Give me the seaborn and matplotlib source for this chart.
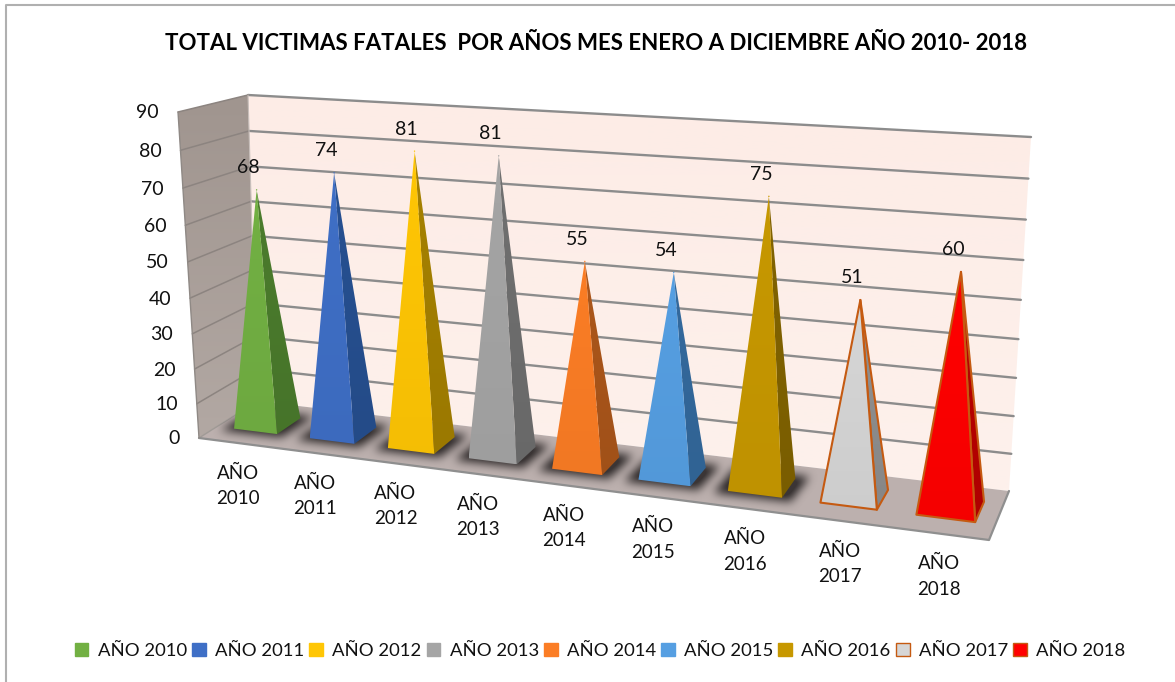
import numpy as np
import pandas as pd
import matplotlib
matplotlib.use("Agg")
import matplotlib.pyplot as plt
from matplotlib.patches import Patch, Polygon
from matplotlib.path import Path
import seaborn as sns

# ---- data ----
categories = ["AÑO 2010", "AÑO 2011", "AÑO 2012", "AÑO 2013", "AÑO 2014",
              "AÑO 2015", "AÑO 2016", "AÑO 2017", "AÑO 2018"]
values = [68, 74, 81, 81, 55, 54, 75, 51, 60]
y_ticks = [0, 10, 20, 30, 40, 50, 60, 70, 80, 90]
title = "TOTAL VICTIMAS FATALES  POR AÑOS MES ENERO A DICIEMBRE AÑO 2010- 2018"
front_colors = ["#72b043", "#3f6fc6", "#ffc605", "#a5a5a5", "#fb7d25",
                "#569fe2", "#c79800", "#d6d6d6", "#ff0000"]
side_colors = ["#4a7a2c", "#264f8f", "#a37f00", "#6e6e6e", "#a9551a",
               "#33689b", "#806200", "#8e8e8e", "#b80000"]
edge_colors = [None] * 7 + ["#c55a11", "#c55a11"]

sns.set_theme(style="white", rc={"axes.grid": False})
plt.rcParams["font.family"] = ["Lato", "DejaVu Sans"]

W, H = 1175, 682
fig = plt.figure(figsize=(W / 100, H / 100), dpi=100, facecolor="white")
ax = fig.add_axes([0, 0, 1, 1])
ax.set_xlim(0, W)
ax.set_ylim(H, 0)
ax.axis("off")

# ---- 3D chart projection: floor quad and per-corner "up" vectors ----
FL, FR, BR, BL = map(np.array, [(199., 438.), (989., 540.), (1009., 491.), (257., 401.)])
UP_FL, UP_FR, UP_BR, UP_BL = map(np.array, [(-21., -326.), (26., -368.), (22., -354.), (-9., -306.)])
WARP = 0.065


def homography(src, dst):
    A, b = [], []
    for (x, y), (X, Y) in zip(src, dst):
        A += [[x, y, 1, 0, 0, 0, -x * X, -y * X], [0, 0, 0, x, y, 1, -x * Y, -y * Y]]
        b += [X, Y]
    h = np.linalg.solve(np.array(A), np.array(b))
    return np.append(h, 1).reshape(3, 3)


HM = homography([(0, 0), (1, 0), (1, 1), (0, 1)], [FL, FR, BR, BL])


def floor(u, d):
    p = HM @ np.array([u, d, 1.0])
    return p[:2] / p[2]


def project(u, d, v):
    up = ((1 - u) * (1 - d) * UP_FL + u * (1 - d) * UP_FR + u * d * UP_BR + (1 - u) * d * UP_BL)
    t = v / 90.0
    return floor(u, d) + up * t / (1 + WARP * (1 - t))


def gradient_poly(pts, top, bottom, zorder, edge=None):
    """Fill a polygon with a vertical gradient."""
    pts = np.asarray(pts)
    x0, y0 = pts.min(axis=0)
    x1, y1 = pts.max(axis=0)
    g = np.linspace(0, 1, 64)[:, None]
    c0, c1 = np.array(matplotlib.colors.to_rgb(top)), np.array(matplotlib.colors.to_rgb(bottom))
    img = (c0[None, :] * (1 - g) + c1[None, :] * g)[:, None, :]
    im = ax.imshow(img, extent=(x0, x1, y1, y0), aspect="auto", zorder=zorder, interpolation="bilinear")
    patch = Polygon(pts, closed=True, transform=ax.transData, fc="none", ec="none")
    ax.add_patch(patch)
    im.set_clip_path(patch)
    if edge:
        ax.add_patch(Polygon(pts, closed=True, fc="none", ec=edge, lw=1.5, zorder=zorder + .1, joinstyle="round"))


def shade(c, f):
    r = np.array(matplotlib.colors.to_rgb(c)) * f
    return tuple(np.clip(r, 0, 1))


def box_blur(a, k):
    kernel = np.ones(k) / k
    a = np.apply_along_axis(lambda r: np.convolve(r, kernel, mode="same"), 0, a)
    return np.apply_along_axis(lambda r: np.convolve(r, kernel, mode="same"), 1, a)


# ---- walls and floor ----
back = [project(0, 1, 0), project(0, 1, 90), project(1, 1, 90), project(1, 1, 0)]
side = [project(0, 0, 0), project(0, 0, 90), project(0, 1, 90), project(0, 1, 0)]
flr = [FL, FR, BR, BL]
gradient_poly(back, "#fdece6", "#fdf1ec", 1)
gradient_poly(side, "#a0958f", "#b2a8a3", 1)
floor_patch = Polygon(flr, closed=True, fc="#bcb0ae", ec="none", zorder=2)
ax.add_patch(floor_patch)

# ---- gridlines drawn with seaborn, one line per tick value ----
rows = []
for v in y_ticks:
    if v == 0:
        continue
    for part, pts in (("back", [project(0, 1, v), project(1, 1, v)]),
                      ("side", [project(0, 0, v), project(0, 1, v)])):
        for order, p in enumerate(pts):
            rows.append(dict(v=v, part=part, order=order, x=p[0], y=p[1]))
grid = pd.DataFrame(rows)
sns.lineplot(data=grid[grid.part == "back"], x="x", y="y", units="v", estimator=None, sort=False,
             color="#8c8c8c", lw=1.7, ax=ax, zorder=3, legend=False)
sns.lineplot(data=grid[grid.part == "side"], x="x", y="y", units="v", estimator=None, sort=False,
             color="#8c8480", lw=1.1, ax=ax, zorder=3, legend=False)
ax.plot(*zip(project(0, 0, 0), project(0, 1, 0)), color="#a09a96", lw=1, zorder=3)
ax.plot(*zip(FL, FR, BR), color="#8f8f8f", lw=1.6, zorder=3)
ax.plot(*zip(project(0, 0, 90), project(0, 0, 0)), color="#8f8985", lw=1.0, zorder=3)
ax.plot(*zip(project(0, 1, 90), project(0, 1, 0)), color="#c8bfbb", lw=0.8, zorder=3)

# ---- pyramids ----
n = len(values)
half_r = 0.30
d0, d1 = 0.30, 0.72
apexes = []
xs = np.arange(170, 1040)
ys = np.arange(380, 570)
gx, gy = np.meshgrid(xs + 0.5, ys + 0.5)
cells = np.column_stack([gx.ravel(), gy.ravel()])
shadow = np.zeros(gx.shape)

for i, (val, fc, sc, ec) in enumerate(zip(values, front_colors, side_colors, edge_colors)):
    uc = (i + 0.5) / n
    ul, ur = uc - (0.27 + 0.025 * uc) / n, uc + half_r / n
    a, b, c = floor(ul, d0), floor(ur, d0), floor(ur, d1)
    e = floor(ul, d1)
    apex = project(uc - 0.035 * min(1, uc * 3) / n, (d0 + d1) / 2, val * (0.985 + 0.025 * uc))
    apexes.append(apex)
    if ec is None:  # soft contact shadow on the floor
        centre = (a + b + c + e) / 4
        quad = centre + (np.array([a, b, c, e]) - centre) * np.array([1.42, 1.3])
        shadow += Path(quad).contains_points(cells).reshape(gx.shape)
    gradient_poly([b, c, apex], shade(sc, 1.02), shade(sc, 0.95), 5, edge=ec)
    gradient_poly([a, b, apex], shade(fc, 1.0), shade(fc, 0.96), 6, edge=ec)
    ax.text(apex[0] - 8, apex[1] - 22, str(val), ha="center", va="center", fontsize=14,
            color="#111111", zorder=9)
    lab = floor(uc, 0)
    ax.text(lab[0] + 1, lab[1] + 43, categories[i].replace(" ", "\n"), ha="center", va="center",
            fontsize=13.5, color="#111111", linespacing=1.6, zorder=9)

for _ in range(3):
    shadow = box_blur(shadow, 9)
rgba = np.zeros(gx.shape + (4,))
rgba[..., :3] = matplotlib.colors.to_rgb("#2f2a2a")
rgba[..., 3] = np.clip(shadow * 1.05, 0, 0.92)
sh = ax.imshow(rgba, extent=(xs[0], xs[-1] + 1, ys[-1] + 1, ys[0]), aspect="auto", zorder=4,
               interpolation="bilinear")
sh.set_clip_path(floor_patch)

apex_df = pd.DataFrame(apexes, columns=["x", "y"]).assign(year=categories)
sns.scatterplot(data=apex_df, x="x", y="y", hue="year", palette=front_colors, s=1, linewidth=0,
                legend=False, ax=ax, zorder=4.5)

# ---- value axis labels ----
for v in y_ticks:
    p = project(0, 0, v)
    ax.text(p[0] - 19, p[1] + 1, str(v), ha="right", va="center", fontsize=14, color="#111111", zorder=9)

ax.set_xlim(0, W)
ax.set_ylim(H, 0)
ax.set_xlabel("")
ax.set_ylabel("")

# ---- title, frame, legend ----
ax.text(596, 43, title, ha="center", va="center", fontsize=16, fontweight="bold", color="#000000")
ax.plot([6, 6, 1175], [682, 5, 5], color="#b0b0b0", lw=1.5, zorder=0)

handles = [Patch(fc=f, ec=e if e else f, lw=1.0, label=c)
           for c, f, e in zip(categories, front_colors, edge_colors)]
fig.legend(handles=handles, loc="center", bbox_to_anchor=(600 / W, 1 - 651 / H), ncol=9, frameon=False,
           fontsize=13.3, handlelength=0.75, handleheight=0.75, handletextpad=0.5, columnspacing=0.27,
           labelcolor="#111111", borderpad=0)

fig.savefig("out.png", dpi=100, facecolor="white")
